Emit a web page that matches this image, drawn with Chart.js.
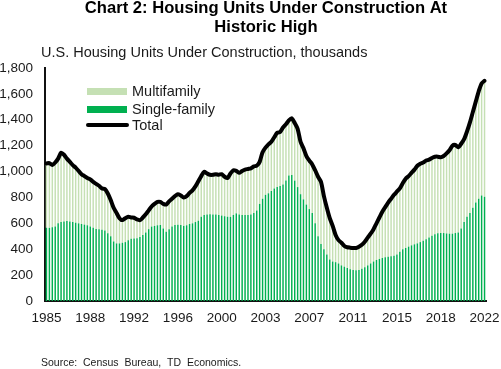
<!DOCTYPE html>
<html>
<head>
<meta charset="utf-8">
<script src="https://cdn.jsdelivr.net/npm/chart.js@4/dist/chart.umd.min.js"></script>
<style>
html,body{margin:0;padding:0;background:#fff;}
#wrap{position:relative;width:501px;height:369px;}
</style>
</head>
<body>
<div id="wrap"><canvas id="c" width="501" height="369"></canvas></div>
<script>
// Quarterly categories 1985Q1 .. 2022Q3
const categories = [];
for (let y = 1985; y <= 2022; y++) {
  for (let q = 1; q <= 4; q++) {
    if (y === 2022 && q > 3) break;
    categories.push(y + 'Q' + q);
  }
}
const tickLabels = ['1985','1988','1992','1996','2000','2003','2007','2011','2015','2018','2022'];

// Total units under construction (thousands)
const total = [
  1063,1065,1050,1070, 1100,1145,1130,1100, 1075,1050,1030,1005, 980,965,950,940,
  920,905,890,870, 865,830,780,720, 680,640,625,640, 651,645,643,630,
  625,645,670,700, 730,750,765,765, 750,745,770,790, 810,825,815,800,
  810,835,855,885, 925,965,998,985, 975,975,980,975, 980,960,950,985,
  1010,1005,990,1005, 1015,1020,1025,1040, 1045,1075,1150,1185, 1210,1230,1265,1300,
  1305,1340,1365,1395, 1411,1375,1330,1230, 1180,1120,1085,1055, 1010,960,920,810,
  720,640,580,510, 470,450,425,415, 412,410,410,420, 435,458,490,520,
  555,600,645,690, 725,760,790,820, 845,870,910,945, 965,990,1015,1045,
  1060,1070,1085,1092, 1105,1114,1115,1110, 1120,1140,1165,1200, 1205,1187,1215,1250,
  1310,1380,1460,1540, 1620,1681,1701
];
// Single-family units under construction (thousands)
const singleFamily = [
  566,565,570,575, 600,610,615,618, 615,610,605,600, 595,590,585,575,
  565,556,555,550, 545,523,500,460, 445,445,450,455, 470,480,483,485,
  495,510,530,555, 575,580,585,587, 560,535,555,575, 587,590,587,580,
  585,595,600,610, 620,651,665,669, 670,668,669,665, 660,655,651,650,
  665,677,668,664, 664,664,668,680, 700,750,790,820, 832,850,870,880,
  888,900,930,970, 973,930,880,825, 785,745,710,680, 600,500,440,400,
  360,320,305,300, 290,275,265,255, 245,240,238,240, 250,260,275,290,
  305,317,325,332, 338,342,345,350, 360,380,400,410, 420,430,438,445,
  455,465,478,490, 505,515,523,525, 525,522,520,520, 525,530,560,610,
  650,680,720,760, 790,815,805
];
const multiFamily = total.map((t, i) => t - singleFamily[i]);

const TXT = '#1a1a1a';
const FONT = '"Liberation Sans", Arial, sans-serif';

const decor = {
  id: 'decor',
  afterDraw(chart) {
    const ctx = chart.ctx;
    ctx.save();
    ctx.fillStyle = '#000';
    ctx.textAlign = 'center';
    ctx.textBaseline = 'middle';
    ctx.font = 'bold 16.6px ' + FONT;
    ctx.fillText('Chart 2: Housing Units Under Construction At', 266, 8);
    ctx.fillText('Historic High', 266, 27);
    ctx.textAlign = 'left';
    ctx.fillStyle = TXT;
    ctx.font = '14.5px ' + FONT;
    ctx.fillText('U.S. Housing Units Under Construction, thousands', 41, 53);
    ctx.font = '10.5px ' + FONT;
    ctx.fillText('Source:  Census  Bureau,  TD  Economics.', 41, 363);
    // legend
    ctx.fillStyle = '#C5E0B4';
    ctx.fillRect(87, 88, 40, 7);
    ctx.fillStyle = '#00B050';
    ctx.fillRect(87, 106, 40, 7);
    ctx.strokeStyle = '#000';
    ctx.lineWidth = 4;
    ctx.lineCap = 'round';
    ctx.beginPath();
    ctx.moveTo(88, 125);
    ctx.lineTo(127, 125);
    ctx.stroke();
    ctx.fillStyle = TXT;
    ctx.font = '14.5px ' + FONT;
    ctx.fillText('Multifamily', 132, 92);
    ctx.fillText('Single-family', 132, 110);
    ctx.fillText('Total', 132, 126);
    ctx.restore();
  }
};

new Chart(document.getElementById('c'), {
  data: {
    labels: categories,
    datasets: [
      {
        type: 'line', label: 'Total', data: total, stack: 'line', order: 0,
        borderColor: '#000', borderWidth: 4, pointRadius: 0, tension: 0.25,
        borderJoinStyle: 'round', borderCapStyle: 'round', fill: false
      },
      {
        type: 'bar', label: 'Single-family', data: singleFamily, stack: 'bars', order: 1,
        backgroundColor: '#00B050', barPercentage: 0.5, categoryPercentage: 1
      },
      {
        type: 'bar', label: 'Multifamily', data: multiFamily, stack: 'bars', order: 2,
        backgroundColor: '#C5E0B4', barPercentage: 0.5, categoryPercentage: 1
      }
    ]
  },
  options: {
    responsive: false,
    animation: false,
    events: [],
    layout: { padding: { left: 0, right: 15, top: 68, bottom: 38 } },
    plugins: { legend: { display: false }, tooltip: { enabled: false }, title: { display: false } },
    scales: {
      x: {
        stacked: true,
        grid: { display: false, drawTicks: false },
        border: { display: true, color: '#111', width: 2 },
        ticks: {
          autoSkip: false, maxRotation: 0, minRotation: 0, padding: 9,
          color: TXT, font: { family: FONT, size: 13.5 },
          callback: (v, i) => (i % 15 === 0 ? tickLabels[i / 15] : null)
        },
        afterFit: s => { s.height = 30; s.paddingLeft = 0; s.paddingRight = 0; }
      },
      y: {
        stacked: true, min: 0, max: 1800,
        grid: { display: false, drawTicks: false },
        border: { display: true, color: '#111', width: 2 },
        ticks: {
          stepSize: 200, padding: 12, color: TXT,
          font: { family: FONT, size: 13.5 },
          callback: v => v.toLocaleString('en-US')
        },
        afterFit: s => { s.width = 45; s.paddingTop = 0; s.paddingBottom = 0; }
      }
    }
  },
  plugins: [decor]
});
</script>
</body>
</html>
